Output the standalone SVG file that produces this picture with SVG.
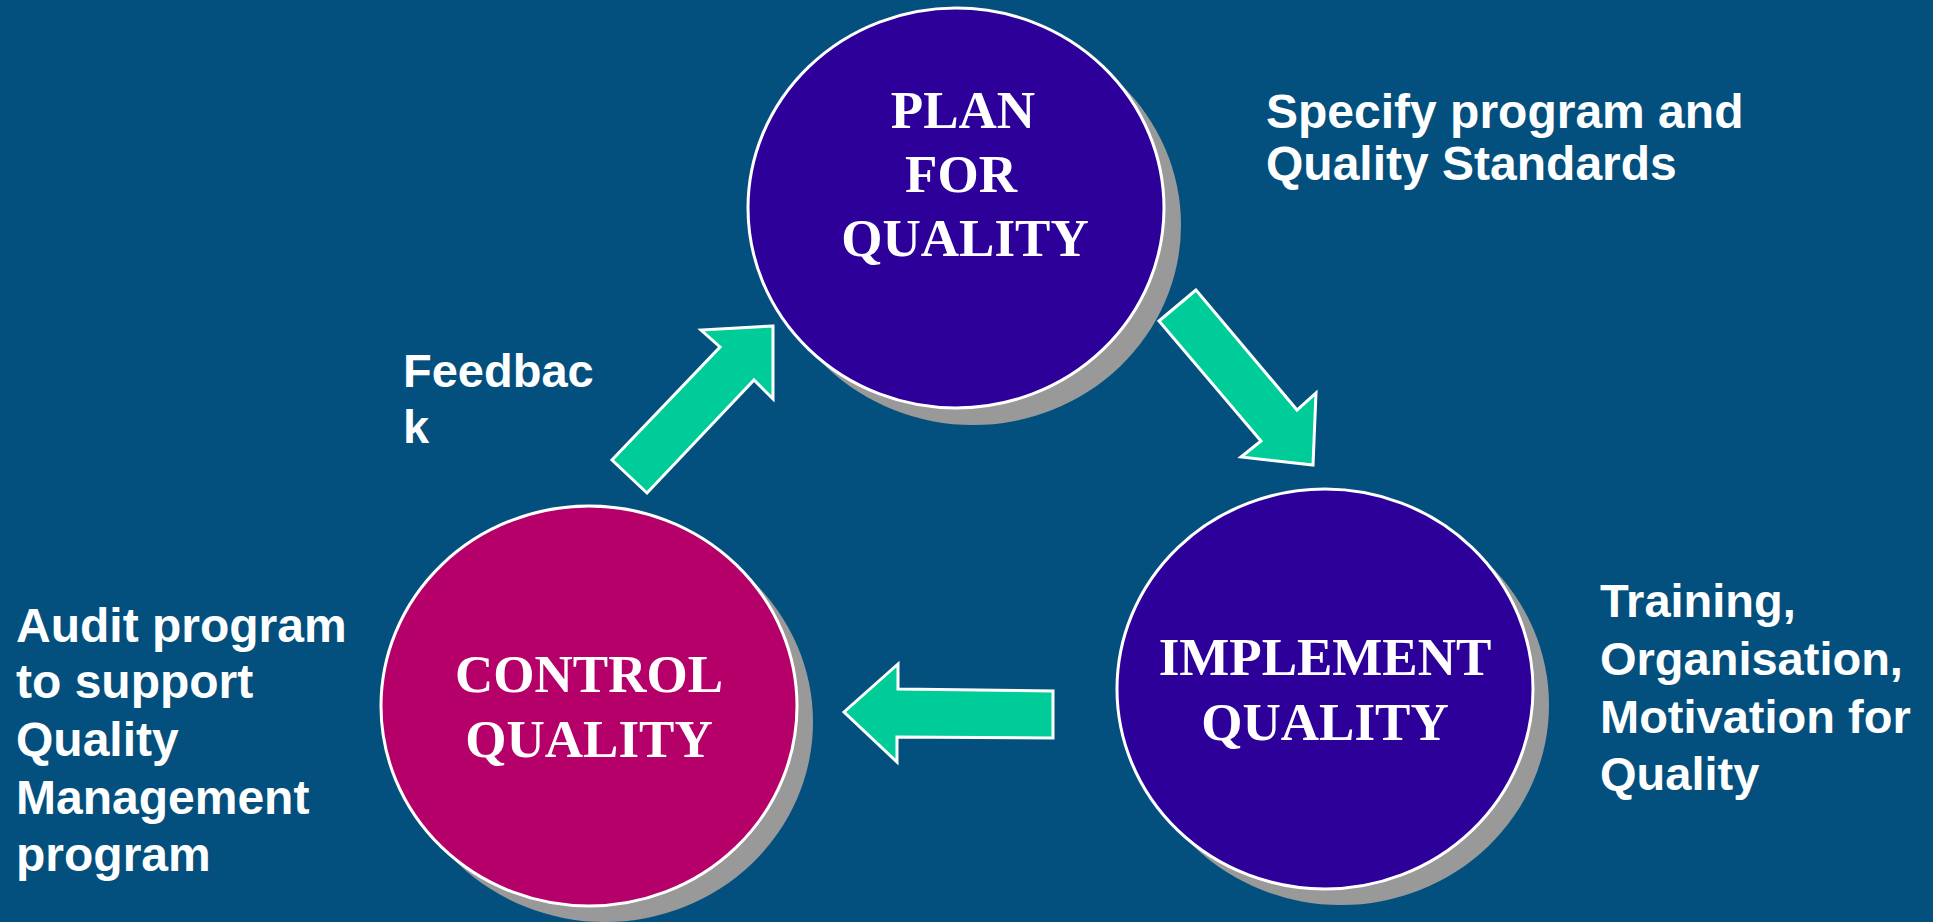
<svg xmlns="http://www.w3.org/2000/svg" width="1933" height="922" viewBox="0 0 1933 922">
<style>
.bg{fill:#03507e}
.shadow{fill:#999999}
.circ{stroke:#ffffff;stroke-width:3}
.blue{fill:#2e009a}
.mag{fill:#b5006a}
.arrow{fill:#00cc99;stroke:#ffffff;stroke-width:3;stroke-linejoin:miter}
.ctext{font-family:"Liberation Serif","Times New Roman",serif;font-weight:bold;font-size:53px;fill:#ffffff;text-anchor:middle}
.ltext{font-family:"Liberation Sans",Arial,sans-serif;font-weight:bold;font-size:47px;fill:#ffffff}
.big{font-size:48px}
</style>
<rect class="bg" x="0" y="0" width="1933" height="922"/>
<g id="node-plan">
<ellipse class="shadow" cx="973" cy="225" rx="208" ry="200"/>
<ellipse class="circ blue" cx="956" cy="208" rx="208" ry="200"/>
<text class="ctext"><tspan x="963" y="128">PLAN</tspan><tspan x="961" y="192">FOR</tspan><tspan x="965" y="256">QUALITY</tspan></text>
</g>
<g id="node-implement">
<ellipse class="shadow" cx="1341" cy="705" rx="208" ry="200"/>
<ellipse class="circ blue" cx="1325" cy="689" rx="208" ry="200"/>
<text class="ctext"><tspan x="1325" y="675">IMPLEMENT</tspan><tspan x="1325" y="740">QUALITY</tspan></text>
</g>
<g id="node-control">
<ellipse class="shadow" cx="605" cy="722" rx="208" ry="200"/>
<ellipse class="circ mag" cx="589" cy="706" rx="208" ry="200"/>
<text class="ctext"><tspan x="589" y="692">CONTROL</tspan><tspan x="589" y="757">QUALITY</tspan></text>
</g>
<g id="connectors">
<polygon class="arrow" points="773,326 701,330 720,347 612,460 647,493 754,380 773,399"/>
<polygon class="arrow" points="1196,290 1159,321 1261,441 1241,457 1313,465 1316,393 1297,410"/>
<polygon class="arrow" points="844,712 898,664 898,689 1053,691 1053,738 897,737 897,762"/>
</g>
<g id="labels">
<text class="ltext big"><tspan x="1266" y="128">Specify program and</tspan><tspan x="1266" y="180">Quality Standards</tspan></text>
<text class="ltext"><tspan x="403" y="387">Feedbac</tspan><tspan x="403" y="443">k</tspan></text>
<text class="ltext"><tspan x="1600" y="617">Training,</tspan><tspan x="1600" y="675">Organisation,</tspan><tspan x="1600" y="733">Motivation for</tspan><tspan x="1600" y="790">Quality</tspan></text>
<text class="ltext big"><tspan x="16" y="642">Audit program</tspan><tspan x="16" y="698">to support</tspan><tspan x="16" y="756">Quality</tspan><tspan x="16" y="814">Management</tspan><tspan x="16" y="871">program</tspan></text>
</g>
</svg>
